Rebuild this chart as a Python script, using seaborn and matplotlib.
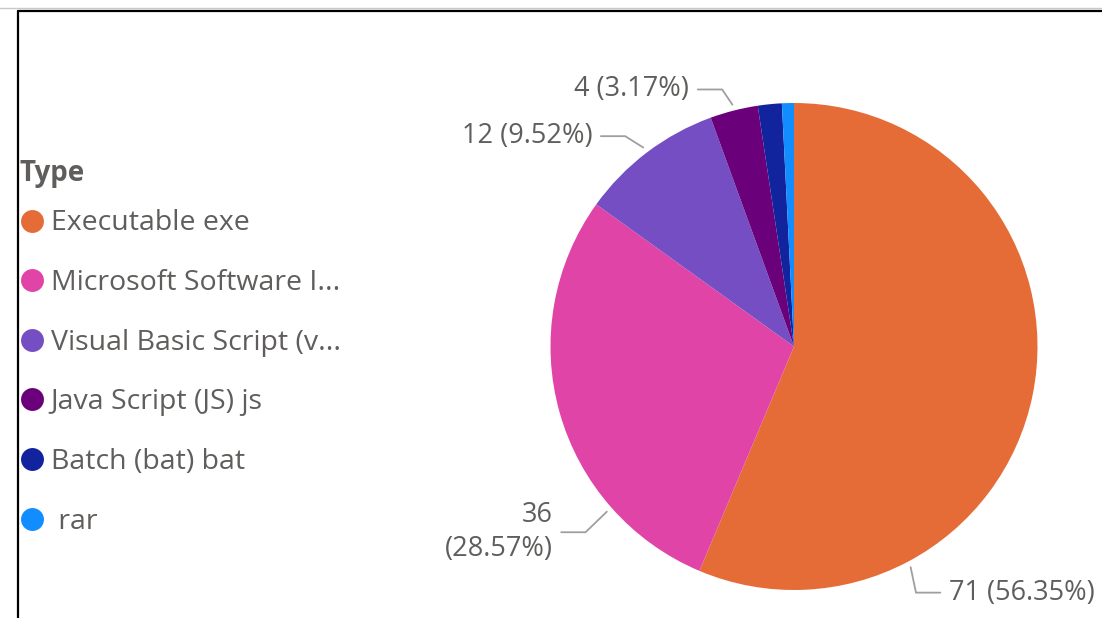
import matplotlib
matplotlib.use("Agg")
import matplotlib.pyplot as plt
from matplotlib.lines import Line2D
import numpy as np
import seaborn as sns

# File types and their counts
types = ["Executable exe", "Microsoft Software I...", "Visual Basic Script (v...",
         "Java Script (JS) js", "Batch (bat) bat", " rar"]
counts = [71, 36, 12, 4, 2, 1]
colors = ["#E66C37", "#E044A7", "#744EC2", "#6B007B", "#12239E", "#118DFF"]
legend_title = "Type"

# Slices that carry a data label: where along the slice the leader starts,
# and whether the label wraps onto two lines
label_anchor = {0: 0.75, 1: 0.25, 2: 0.5, 3: 0.5}
label_wrap = {1}

sns.set_theme(style="white")
plt.rcParams["font.family"] = ["Open Sans", "DejaVu Sans"]

TEXT = "#605E5C"
W, H = 1102, 618
fig = plt.figure(figsize=(W / 100, H / 100), dpi=100)
fig.patch.set_facecolor("white")

# Pie axes: centre and radius in pixels
cx, cy, R = 794, 346.5, 243.5
ax = fig.add_axes([(cx - R) / W, (H - cy - R) / H, 2 * R / W, 2 * R / H])
ax.pie(counts, colors=colors, startangle=90, counterclock=False, radius=1,
       wedgeprops=dict(linewidth=0))
ax.set_xlim(-1, 1)
ax.set_ylim(-1, 1)
ax.set_aspect("equal")
ax.axis("off")

total = sum(counts)
cum = np.concatenate([[0], np.cumsum(counts)])
for i, frac in label_anchor.items():
    a = np.deg2rad((cum[i] + frac * counts[i]) / total * 360)
    ux, uy = np.sin(a), np.cos(a)
    side = 1 if ux >= 0 else -1
    p0 = (1.025 * ux, 1.025 * uy)
    p1 = (1.115 * ux - 0.02, 1.115 * uy - 0.025)
    p2 = (p1[0] + side * 0.10, p1[1])
    ax.plot([p0[0], p1[0], p2[0]], [p0[1], p1[1], p2[1]], color="#A19F9D",
            lw=1.3, clip_on=False, solid_joinstyle="miter")
    sep = "\n" if i in label_wrap else " "
    txt = f"{counts[i]}{sep}({counts[i] / total:.2%})"
    ax.text(p2[0] + side * 0.035, p2[1], txt, ha="left" if side > 0 else "right",
            va="center", multialignment="right", fontsize=19.5, color=TEXT,
            linespacing=1.3, clip_on=False)

# Legend with its title set as a separate heading
fig.text(19 / W, 1 - 174 / H, legend_title, ha="left", va="center",
         fontsize=20, fontweight="bold", color=TEXT)
handles = [Line2D([], [], marker="o", linestyle="", markersize=16.5, color=c,
                  markeredgewidth=0) for c in colors]
fig.legend(handles, types, loc="upper left",
           bbox_to_anchor=(18 / W, 1 - 209.5 / H), frameon=False,
           handletextpad=0.15, handlelength=1.0,
           borderpad=0, borderaxespad=0, labelspacing=1.11,
           fontsize=20.5, labelcolor=TEXT)

# Visual frame: black rules on top and left, with a faint line above
fig.add_artist(Line2D([0, 1], [1 - 8 / H, 1 - 8 / H], transform=fig.transFigure,
                      color="#C8C8C8", lw=1))
fig.add_artist(Line2D([17.5 / W, 1], [1 - 10.5 / H, 1 - 10.5 / H],
                      transform=fig.transFigure, color="black", lw=1.6))
fig.add_artist(Line2D([17.5 / W, 17.5 / W], [0, 1 - 10.5 / H],
                      transform=fig.transFigure, color="black", lw=1.6))

fig.savefig("out.png", dpi=100, facecolor="white")
